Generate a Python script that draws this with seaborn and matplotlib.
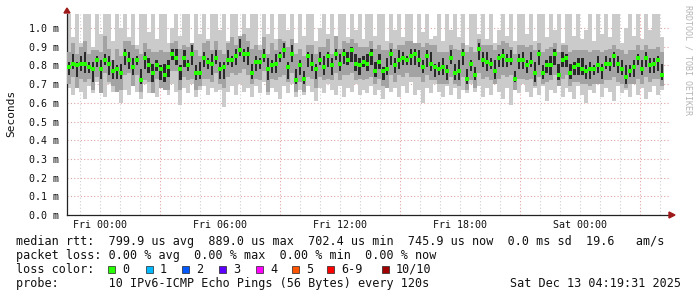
import numpy as np
import pandas as pd
import matplotlib
matplotlib.use("Agg")
import matplotlib.pyplot as plt
from matplotlib.patches import Rectangle, Polygon
import seaborn as sns

# ---- data (values in 1/100 ms) ----
median = [79,81,80,81,81,79,78,83,78,83,81,77,78,76,86,83,79,83,72,84,80,76,80,78,75,79,86,84,78,84,80,86,76,76,84,82,81,84,
          78,79,83,83,85,88,86,86,76,82,82,85,78,80,81,85,88,79,86,72,80,73,85,81,78,83,79,85,80,86,81,86,83,88,81,80,82,81,
          86,77,82,77,78,86,80,83,84,83,85,86,83,79,85,81,79,78,79,77,84,76,77,86,73,81,75,89,83,82,81,77,84,85,83,83,73,83,
          83,80,82,76,86,76,80,80,86,75,83,84,76,79,80,78,77,78,78,80,78,81,81,85,81,78,74,77,79,84,78,84,80,81,83,75]
ping_max = [108,95,108,92,108,108,90,108,97,108,108,93,108,100,108,95,108,91,108,108,98,108,94,108,108,92,100,108,96,108,108,90,108,97,108,94,108,108,
            99,108,93,108,108,95,108,100,108,108,91,108,97,108,94,108,108,99,108,92,108,96,108,108,93,100,108,97,108,91,108,108,95,108,99,108,94,108,
            108,96,108,108,93,108,99,108,95,108,108,92,108,98,108,94,96,108,93,108,99,108,95,108,91,108,108,97,108,94,108,92,99,108,96,108,93,108,
            108,97,108,93,108,108,95,108,99,108,92,108,108,96,108,94,99,108,93,108,97,108,95,108,108,92,100,108,96,108,94,108,99,108,108,95]
ping_min = [68,64,70,66,62,69,65,71,67,63,70,66,68,60,67,64,69,66,62,70,65,68,63,69,67,64,70,66,59,68,65,70,63,67,69,64,68,66,
            67,58,66,69,64,70,66,68,63,69,65,71,64,68,66,62,69,65,70,63,67,64,69,66,61,68,65,70,67,64,69,63,68,66,70,64,67,65,
            69,64,67,62,70,66,68,63,69,65,71,64,67,60,68,65,70,66,63,69,64,68,62,67,65,70,66,69,63,68,64,70,66,62,68,59,67,65,
            70,66,63,68,64,69,61,67,65,70,63,68,66,62,69,64,60,67,65,70,63,68,66,61,69,65,67,63,70,64,68,62,66,69,64,67]
mid_up = [8,11,6,9,12,7,10,5,9,13,8,6,11,9,7,10,12,6,14,8,9,11,7,10,12,8,6,9,11,7,10,6,12,9,8,11,7,9,
          10,7,9,12,6,8,11,7,13,9,6,10,8,12,7,9,5,11,8,14,9,12,6,10,8,7,11,9,6,10,8,7,9,6,11,10,8,9,
          7,12,9,11,10,6,9,8,7,10,8,6,9,11,7,10,12,9,8,10,7,13,11,6,14,9,12,5,8,9,10,11,7,8,9,7,13,8,
          8,10,9,12,6,11,9,10,6,12,8,7,11,9,8,10,11,9,10,8,9,7,8,6,8,10,12,11,9,7,10,7,9,8,7,12]
mid_dn = [9,7,12,8,10,6,11,9,13,7,10,8,12,9,11,7,10,8,6,12,9,11,7,10,8,12,9,7,11,10,8,13,9,7,11,9,10,8,
          8,11,9,7,10,12,8,11,6,9,10,8,12,7,9,11,13,8,10,6,9,7,11,8,10,9,7,12,8,10,9,11,8,12,9,7,10,8,
          12,7,9,8,10,11,9,8,10,7,11,12,9,8,10,9,7,8,9,7,10,6,8,12,6,9,7,13,10,8,9,7,11,10,9,8,6,10,
          10,8,9,7,12,6,9,8,11,6,10,9,7,8,9,8,7,9,8,10,8,9,9,11,10,8,6,7,9,11,8,10,9,8,10,6]
dark_up = [3,5,2,4,6,3,4,2,5,3,4,6,2,5,3,4,5,2,6,3,4,5,3,2,6,4,3,5,2,4,3,5,4,6,3,2,5,4,
           4,3,5,2,4,6,3,4,5,3,2,4,6,3,5,2,4,3,5,6,3,4,2,5,3,4,6,2,4,3,5,3,4,2,5,4,3,5,
           3,5,4,2,6,3,4,5,3,2,4,3,5,4,3,6,2,4,5,3,4,5,6,3,5,2,4,3,4,5,3,6,2,4,3,5,4,3,
           4,3,5,6,2,4,3,5,3,6,4,2,5,3,4,6,3,4,2,5,3,4,3,2,4,5,6,3,4,2,5,3,4,3,2,6]
dark_dn = [4,3,6,4,5,3,7,4,5,3,6,4,5,3,6,5,4,3,2,6,4,5,3,6,4,5,3,4,6,5,3,6,4,3,5,4,6,3,
           5,6,3,4,5,3,4,6,3,5,4,3,6,4,5,3,4,6,4,2,5,3,6,4,5,3,4,6,5,3,4,5,3,6,4,5,3,4,
           6,3,4,5,3,6,4,5,4,3,5,6,4,3,6,4,5,3,4,5,3,4,5,6,3,4,3,6,4,5,3,4,5,6,4,3,2,5,
           5,4,3,5,6,3,4,5,6,3,4,5,3,4,5,3,4,5,3,4,5,3,4,6,5,3,4,3,5,4,3,5,4,5,6,3]

tick_hours = [0, 6, 12, 18, 24]
tick_labels = ["Fri 00:00", "Fri 06:00", "Fri 12:00", "Fri 18:00", "Sat 00:00"]
y_ticks = [0.0, 0.1, 0.2, 0.3, 0.4, 0.5, 0.6, 0.7, 0.8, 0.9, 1.0]
loss_labels = ["0", "1", "2", "3", "4", "5", "6-9", "10/10"]
loss_colors = ["#26ff00", "#00b8ff", "#0059ff", "#5e00ff", "#ff00ff", "#ff5500", "#ff0000", "#a10000"]

stat_line1 = "median rtt:  799.9 us avg  889.0 us max  702.4 us min  745.9 us now  0.0 ms sd  19.6   am/s"
stat_line2 = "packet loss: 0.00 % avg  0.00 % max  0.00 % min  0.00 % now"
stat_line3 = "loss color:"
stat_line4 = "probe:       10 IPv6-ICMP Echo Pings (56 Bytes) every 120s"
stamp = "Sat Dec 13 04:19:31 2025"

# ---- frame ----
n = len(median)
t_start, t_end = -1.65, 28.2
step = (t_end - t_start) / n
df = pd.DataFrame({
    "hour": t_start + step * (np.arange(n) + 0.5),
    "med": np.array(median) / 100.0,
    "hi": np.array(ping_max) / 100.0,
    "lo": np.array(ping_min) / 100.0,
})
df["mhi"] = df["med"] + np.array(mid_up) / 100.0
df["mlo"] = df["med"] - np.array(mid_dn) / 100.0
df["dhi"] = df["med"] + np.array(dark_up) / 100.0
df["dlo"] = df["med"] - np.array(dark_dn) / 100.0

sns.set_theme(style="white")
plt.rcParams["font.family"] = ["DejaVu Sans Mono"]

W, H = 697, 297
fig = plt.figure(figsize=(W / 100, H / 100), dpi=100)
fig.patch.set_facecolor("white")
ax = fig.add_axes([67 / W, 82 / H, 602 / W, 201 / H])
ax.set_facecolor("white")
ax.set_xlim(-1.65, 28.45)
ax.set_ylim(0, 1.075)

# grid
grid_red = "#e2a4a4"
grid_gray = "#cfcfcf"
for h in range(-1, 29):
    major = (h - 3) % 6 == 0
    ax.axvline(h, color=grid_red if major else grid_gray, lw=0.8,
               ls=(0, (1, 2)), zorder=0)
for yv in y_ticks[1:]:
    ax.axhline(yv, color=grid_red, lw=0.8, ls=(0, (1, 2)), zorder=0)

# smoke
ax.bar(df["hour"], df["hi"] - df["lo"], bottom=df["lo"], width=step,
       color="#cbcbcb", linewidth=0, zorder=2)
ax.bar(df["hour"], df["mhi"] - df["mlo"], bottom=df["mlo"], width=step,
       color="#a3a3a3", linewidth=0, zorder=3)
ax.bar(df["hour"], df["dhi"] - df["dlo"], bottom=df["dlo"], width=step * 0.55,
       color="#2a2a2a", linewidth=0, zorder=4)
sns.scatterplot(data=df, x="hour", y="med", marker="s", s=7, color="#26ff00",
                linewidth=0, ax=ax, zorder=5, legend=False)

# axes styling
for s in ["top", "right"]:
    ax.spines[s].set_visible(False)
for s in ["left", "bottom"]:
    ax.spines[s].set_color("#222222")
    ax.spines[s].set_linewidth(0.9)
ax.set_xticks(tick_hours)
ax.set_xticklabels(tick_labels, fontsize=7.2, color="#111111")
ax.set_yticks(y_ticks)
ax.set_yticklabels([f"{v:.1f} m" for v in y_ticks], fontsize=7.2, color="#111111")
ax.tick_params(axis="x", length=0, pad=3.5)
ax.tick_params(axis="y", length=3, width=0.6, color=grid_red, pad=3)
ax.set_xlabel("")
ax.set_ylabel("")

def fx(x):
    return x / W

def fy(y):
    return 1 - y / H

# arrows
arrow_c = "#9e1a1a"
fig.patches.append(Polygon([(fx(64), fy(13)), (fx(70), fy(13)), (fx(67), fy(8))],
                           closed=True, color=arrow_c, transform=fig.transFigure))
fig.patches.append(Polygon([(fx(669), fy(212)), (fx(669), fy(218)), (fx(675), fy(215))],
                           closed=True, color=arrow_c, transform=fig.transFigure))

# labels
fig.text(fx(11), fy(113), "Seconds", rotation=90, ha="center", va="center",
         fontsize=8, color="#111111")
fig.text(fx(688), fy(5), "RRDTOOL / TOBI OETIKER", rotation=270, ha="center",
         va="top", fontsize=6, color="#b4b4b4")

fs = 8.5
fig.text(fx(16), fy(245), stat_line1, ha="left", va="baseline", fontsize=fs, color="#111111")
fig.text(fx(16), fy(259), stat_line2, ha="left", va="baseline", fontsize=fs, color="#111111")
fig.text(fx(16), fy(273), stat_line3, ha="left", va="baseline", fontsize=fs, color="#111111")
fig.text(fx(16), fy(287), stat_line4, ha="left", va="baseline", fontsize=fs, color="#111111")
fig.text(fx(681), fy(287), stamp, ha="right", va="baseline", fontsize=fs, color="#111111")

box_x = [108, 146, 182, 219, 256, 292, 327, 382]
for bx, lab, col in zip(box_x, loss_labels, loss_colors):
    fig.patches.append(Rectangle((fx(bx), fy(272.5)), 7 / W, 7 / H, facecolor=col,
                                 edgecolor="#222222", linewidth=0.5,
                                 transform=fig.transFigure))
    fig.text(fx(bx + 14), fy(273), lab, ha="left", va="baseline", fontsize=fs, color="#111111")

fig.savefig("out.png", dpi=100, facecolor="white")
